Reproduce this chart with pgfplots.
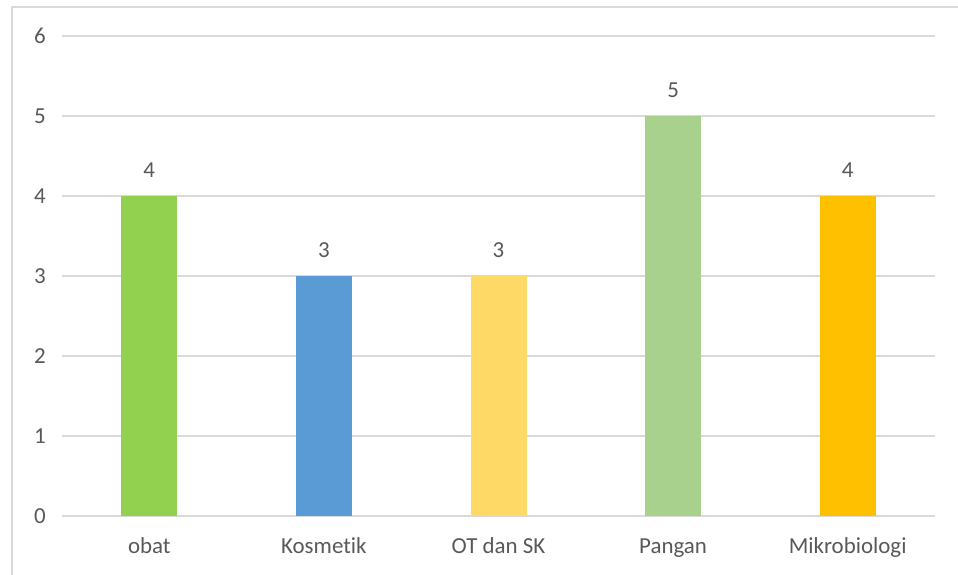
\documentclass[border=0pt]{standalone}
\usepackage{fontspec}
\setmainfont{Carlito}[Ligatures=NoCommon]
\usepackage{pgfplots}
\pgfplotsset{compat=1.18}
\definecolor{txt}{HTML}{595959}
\definecolor{grd}{HTML}{D9D9D9}
\definecolor{cA}{HTML}{92D050}
\definecolor{cB}{HTML}{5B9BD5}
\definecolor{cC}{HTML}{FFD966}
\definecolor{cD}{HTML}{A9D18E}
\definecolor{cE}{HTML}{FFC000}
\begin{document}
\begin{tikzpicture}[x=1bp,y=1bp]
\fill[white] (0,0) rectangle (958,575);
\begin{axis}[
  at={(62bp,59bp)}, anchor=south west,
  scale only axis, width=873bp, height=480bp,
  font=\fontsize{23}{28}\selectfont,
  /pgf/number format/assume math mode=true,
  xmin=-0.5, xmax=4.5, ymin=0, ymax=6,
  xtick={0,1,2,3,4},
  xticklabels={obat,Kosmetik,OT dan SK,Pangan,Mikrobiologi},
  ytick={0,1,2,3,4,5,6},
  ymajorgrids, grid style={grd, line width=1.5bp},
  axis x line*=bottom,
  axis y line*=left,
  x axis line style={draw=grd, line width=1.5bp},
  y axis line style={draw=none},
  major tick length=0pt,
  tick label style={text=txt},
  yticklabel style={anchor=center, inner sep=0pt, xshift=-22bp},
  xticklabel style={anchor=base, inner sep=0pt, yshift=-38bp},
  ybar, bar width=56bp, bar shift=0pt,
  nodes near coords,
  every node near coord/.append style={text=txt, anchor=south, inner sep=0pt, yshift=18bp},
  clip=false,
]
\addplot[fill=cA, draw=none] coordinates {(0,4)};
\addplot[fill=cB, draw=none] coordinates {(1,3)};
\addplot[fill=cC, draw=none] coordinates {(2,3)};
\addplot[fill=cD, draw=none] coordinates {(3,5)};
\addplot[fill=cE, draw=none] coordinates {(4,4)};
\end{axis}
\draw[grd, line width=1.8bp] (12,-10) -- (12,568) -- (970,568);
\pgfresetboundingbox
\path[use as bounding box] (0,0) rectangle (958,575);
\end{tikzpicture}
\end{document}
